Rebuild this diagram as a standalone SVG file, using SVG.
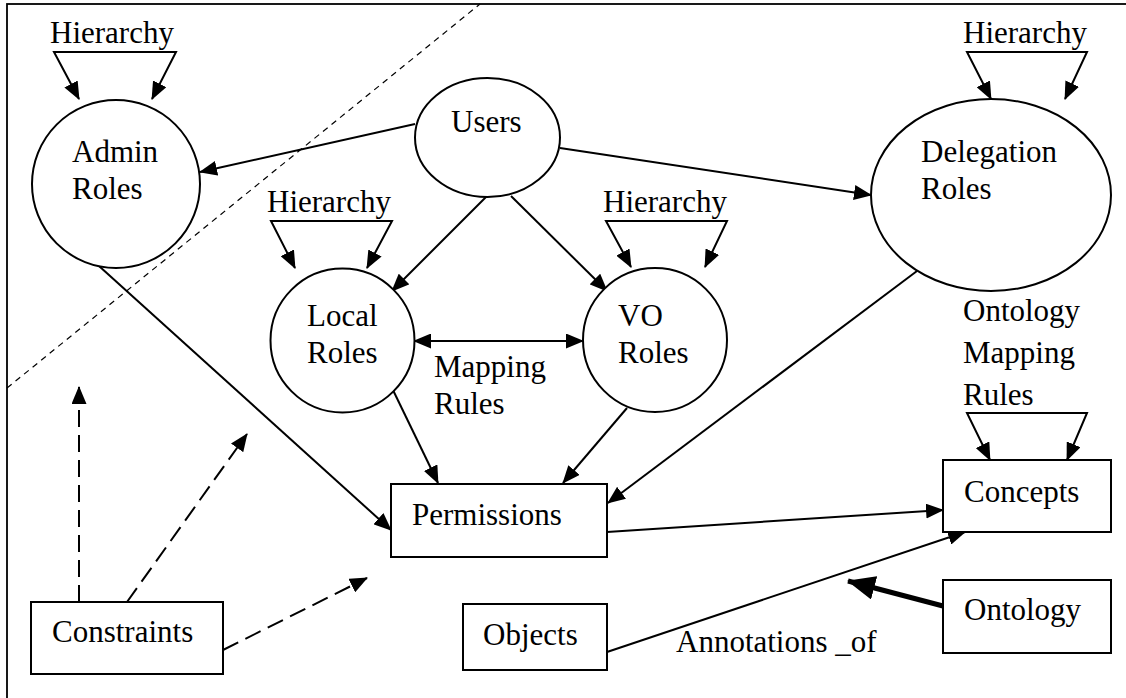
<svg xmlns="http://www.w3.org/2000/svg" width="1126" height="698" viewBox="0 0 1126 698" font-family="'Liberation Serif', 'Times New Roman', 'DejaVu Serif', serif">
<defs>
<style>
text{font-family:'Liberation Serif','Times New Roman','DejaVu Serif',serif;font-size:31px;fill:#000}
.n{fill:#fff;stroke:#000;stroke-width:2}
.c{fill:none;stroke:#000;stroke-width:2}
.a{marker-end:url(#ah)}
.ab{marker-start:url(#ah);marker-end:url(#ah)}
.d{fill:none;stroke:#000;stroke-width:2;stroke-dasharray:17 8;marker-end:url(#ah)}
</style>
<marker id="ah" markerUnits="userSpaceOnUse" markerWidth="18" markerHeight="15" refX="17" refY="7.5" orient="auto-start-reverse" viewBox="0 0 18 15">
<path d="M0,0 L18,7.5 L0,15 Z" fill="#000"/>
</marker>
<marker id="ahb" markerUnits="userSpaceOnUse" markerWidth="28" markerHeight="24" refX="27" refY="12" orient="auto" viewBox="0 0 28 24">
<path d="M0,0 L28,12 L0,24 Z" fill="#000"/>
</marker>
</defs>
<rect x="0" y="0" width="1126" height="698" fill="#fff"/>
<rect x="7" y="4" width="1140" height="720" fill="none" stroke="#000" stroke-width="1.8"/>
<line x1="7" y1="388" x2="480" y2="4" stroke="#000" stroke-width="1.2" stroke-dasharray="6 5"/>

<g id="connectors">
<line class="c a" x1="415" y1="124" x2="200" y2="172"/>
<line class="c a" x1="560" y1="148" x2="871" y2="195"/>
<line class="c a" x1="487" y1="196" x2="392" y2="291"/>
<line class="c a" x1="511" y1="196" x2="607" y2="291"/>
<line class="c ab" x1="414" y1="341" x2="583" y2="341"/>
<line class="c a" x1="99" y1="266" x2="391" y2="530"/>
<line class="c a" x1="392" y1="388" x2="438" y2="483"/>
<line class="c a" x1="627" y1="408" x2="563" y2="483"/>
<line class="c a" x1="917" y1="271" x2="608" y2="503"/>
<line class="c a" x1="607" y1="532" x2="943" y2="510"/>
<line class="c a" x1="607" y1="652" x2="965" y2="532"/>
<line x1="943" y1="606" x2="848" y2="581" stroke="#000" stroke-width="5" marker-end="url(#ahb)"/>
<path class="c ab" d="M79,99 L54,52 L176,52 L152,99"/>
<path class="c ab" d="M991,99 L967,52 L1087,52 L1065,99"/>
<path class="c ab" d="M295,268 L271,221 L392,221 L367,268"/>
<path class="c ab" d="M631,267 L606,221 L727,221 L705,267"/>
<path class="c ab" d="M990,460 L967,413 L1087,413 L1067,460"/>
<line class="d" x1="79" y1="602" x2="79" y2="387"/>
<line class="d" x1="127" y1="602" x2="247" y2="434"/>
<line class="d" x1="223" y1="650" x2="367" y2="578"/>
</g>

<g id="labels">
<text x="50" y="43">Hierarchy</text>
<text x="963" y="43">Hierarchy</text>
<text x="267" y="212">Hierarchy</text>
<text x="603" y="212">Hierarchy</text>
<text x="434" y="377">Mapping</text>
<text x="434" y="414">Rules</text>
<text x="963" y="321">Ontology</text>
<text x="963" y="363">Mapping</text>
<text x="963" y="405">Rules</text>
<text x="676" y="652">Annotations _of</text>
</g>

<g id="admin-roles">
<circle class="n" cx="116" cy="184" r="84"/>
<text x="72" y="162">Admin</text>
<text x="72" y="199">Roles</text>
</g>
<g id="users">
<ellipse class="n" cx="487.5" cy="137.5" rx="72.5" ry="59.5"/>
<text x="451" y="132">Users</text>
</g>
<g id="delegation-roles">
<ellipse class="n" cx="991" cy="195" rx="120" ry="96"/>
<text x="921" y="162">Delegation</text>
<text x="921" y="199">Roles</text>
</g>
<g id="local-roles">
<circle class="n" cx="342.5" cy="340.5" r="72"/>
<text x="307" y="326">Local</text>
<text x="307" y="363">Roles</text>
</g>
<g id="vo-roles">
<circle class="n" cx="655" cy="340" r="72"/>
<text x="618" y="326">VO</text>
<text x="618" y="363">Roles</text>
</g>
<g id="permissions">
<rect class="n" x="391" y="484" width="216" height="73"/>
<text x="412" y="525">Permissions</text>
</g>
<g id="objects">
<rect class="n" x="463" y="604" width="144" height="66"/>
<text x="483" y="645">Objects</text>
</g>
<g id="concepts">
<rect class="n" x="943" y="460" width="168" height="72"/>
<text x="964" y="502">Concepts</text>
</g>
<g id="ontology">
<rect class="n" x="943" y="580" width="168" height="73"/>
<text x="964" y="620">Ontology</text>
</g>
<g id="constraints">
<rect class="n" x="31" y="602" width="192" height="72"/>
<text x="52" y="642">Constraints</text>
</g>
</svg>
